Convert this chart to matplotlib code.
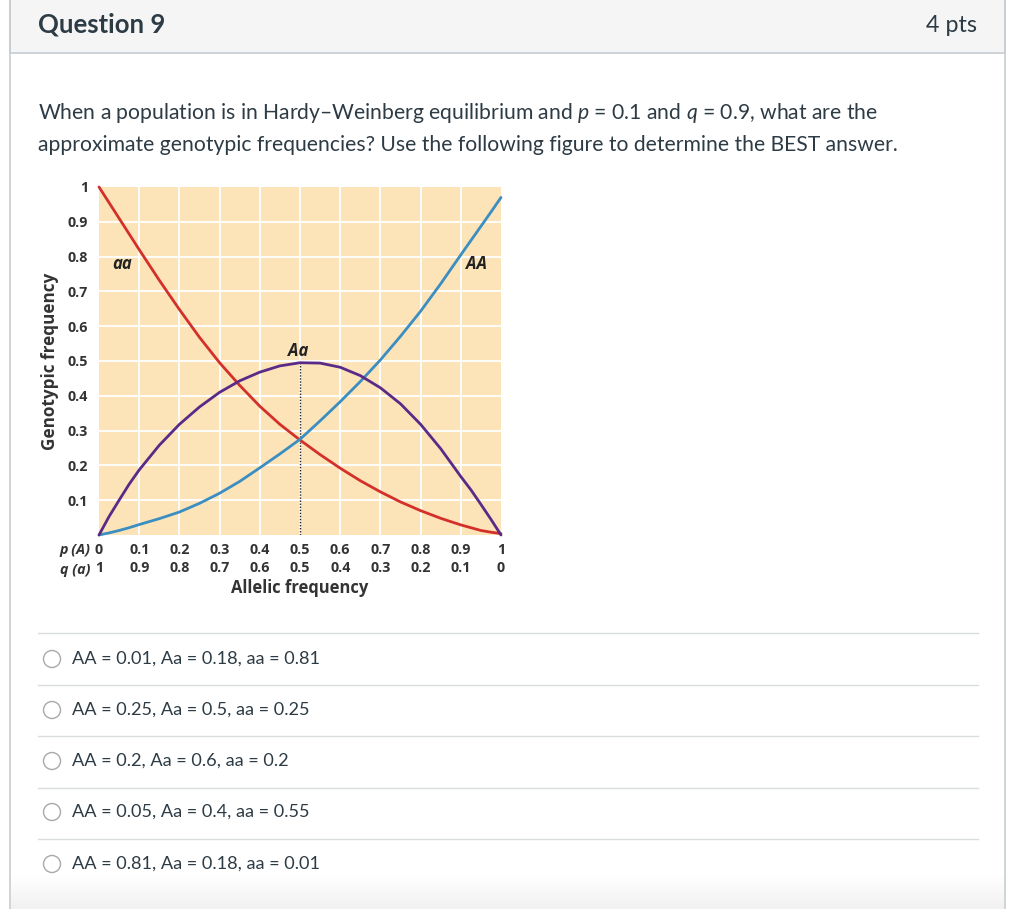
import numpy as np
import matplotlib
matplotlib.use("Agg")
import matplotlib.pyplot as plt
from matplotlib.patches import Rectangle, Circle

plt.rcParams['font.family'] = ['Lato', 'DejaVu Sans']
plt.rcParams['mathtext.fontset'] = 'custom'
plt.rcParams['mathtext.it'] = 'Lato:italic'
plt.rcParams['mathtext.rm'] = 'Lato'

# ---- data ----
p_values = [0.0, 0.025, 0.05, 0.075, 0.1, 0.15, 0.2, 0.25, 0.3, 0.35, 0.4, 0.45, 0.5,
            0.55, 0.6, 0.65, 0.7, 0.75, 0.8, 0.85, 0.9, 0.925, 0.95, 0.975, 1.0]
freq_AA = [0.0, 0.006, 0.013, 0.021, 0.03, 0.047, 0.066, 0.091, 0.12, 0.154, 0.193, 0.233, 0.275,
           0.328, 0.383, 0.441, 0.503, 0.571, 0.643, 0.722, 0.805, 0.846, 0.887, 0.928, 0.97]
freq_Aa = [0.0, 0.053, 0.10, 0.146, 0.187, 0.258, 0.318, 0.368, 0.41, 0.443, 0.468, 0.486, 0.495,
           0.494, 0.482, 0.458, 0.423, 0.377, 0.318, 0.248, 0.168, 0.13, 0.088, 0.045, 0.0]
freq_aa = [1.0, 0.955, 0.91, 0.865, 0.82, 0.732, 0.648, 0.568, 0.495, 0.43, 0.37, 0.318, 0.273,
           0.231, 0.192, 0.156, 0.124, 0.095, 0.07, 0.048, 0.029, 0.021, 0.013, 0.008, 0.004]

x_ticks = [0, 0.1, 0.2, 0.3, 0.4, 0.5, 0.6, 0.7, 0.8, 0.9, 1.0]
p_labels = ['0', '0.1', '0.2', '0.3', '0.4', '0.5', '0.6', '0.7', '0.8', '0.9', '1']
q_labels = ['1', '0.9', '0.8', '0.7', '0.6', '0.5', '0.4', '0.3', '0.2', '0.1', '0']
y_ticks = [0.1, 0.2, 0.3, 0.4, 0.5, 0.6, 0.7, 0.8, 0.9, 1.0]
y_labels = ['0.1', '0.2', '0.3', '0.4', '0.5', '0.6', '0.7', '0.8', '0.9', '1']

title = "Question 9"
points = "4 pts"
question_lines = [
    "When a population is in Hardy\u2013Weinberg equilibrium and $p$ = 0.1 and $q$ = 0.9, what are the",
    "approximate genotypic frequencies? Use the following figure to determine the BEST answer.",
]
answers = [
    "AA = 0.01, Aa = 0.18, aa = 0.81",
    "AA = 0.25, Aa = 0.5, aa = 0.25",
    "AA = 0.2, Aa = 0.6, aa = 0.2",
    "AA = 0.05, Aa = 0.4, aa = 0.55",
    "AA = 0.81, Aa = 0.18, aa = 0.01",
]

W, H = 1024, 909
fig = plt.figure(figsize=(W / 100, H / 100), dpi=100)
fig.patch.set_facecolor('white')

# ---- page background in pixel coordinates ----
bg = fig.add_axes([0, 0, 1, 1])
bg.axis('off')

border = '#c7cdd1'
bg.add_patch(Rectangle((10, -2), 995, 55, facecolor='#f5f5f5', edgecolor=border, lw=1.2))
grad = np.linspace(0, 1, 50).reshape(-1, 1)
bg.imshow(grad, extent=(11, 1004, 909, 875), cmap=matplotlib.colors.LinearSegmentedColormap.from_list(
    'g', ['#ffffff', '#f1f1f1']), aspect='auto', zorder=0)
bg.plot([10, 10], [0, H], color=border, lw=1.2)
bg.plot([1005, 1005], [0, H], color=border, lw=1.2)
bg.set_xlim(0, W)
bg.set_ylim(H, 0)

txt_col = '#2d3b45'
bg.text(38, 25, title, fontsize=18.5, fontweight='bold', color=txt_col, va='center', ha='left')
bg.text(977, 26, points, fontsize=16.8, color=txt_col, va='center', ha='right')

for i, line in enumerate(question_lines):
    bg.text(38, 113 + 32 * i, line, fontsize=15.2, color=txt_col, va='center', ha='left')

sep_y = [633, 685, 736, 788, 839]
ans_y = [659, 710, 761, 812, 864]
for sy in sep_y:
    bg.plot([38, 978], [sy, sy], color='#d9dde0', lw=1.0)
for ay, txt in zip(ans_y, answers):
    bg.add_patch(Circle((52, ay), 8.5, facecolor='white', edgecolor='#a9a9a9', lw=1.0))
    bg.text(72, ay, txt, fontsize=13.05, color=txt_col, va='center', ha='left')

# ---- chart ----
left, right, top, bottom = 99, 501, 187, 535
ax = fig.add_axes([left / W, 1 - bottom / H, (right - left) / W, (bottom - top) / H])
ax.set_facecolor('#fde3b8')
ax.set_xlim(0, 1)
ax.set_ylim(0, 1)
for s in ax.spines.values():
    s.set_visible(False)
for gx in x_ticks[1:-1]:
    ax.axvline(gx, color='white', lw=1.3, zorder=1)
for gy in y_ticks[:-1]:
    ax.axhline(gy, color='white', lw=1.3, zorder=1)

ax.plot([0.5, 0.5], [0, max(freq_Aa)], color='#222222', lw=1.0, ls=(0, (1, 1.2)), zorder=2)
line_kw = dict(lw=2.0, clip_on=False, solid_capstyle='round', solid_joinstyle='round')
ax.plot(p_values, freq_aa, color='#d3302a', zorder=3, **line_kw)
ax.plot(p_values, freq_AA, color='#3a8ec2', zorder=3, **line_kw)
ax.plot(p_values, freq_Aa, color='#5a2a88', zorder=4, **line_kw)

chart_fam = ['Open Sans', 'DejaVu Sans']
lab_kw = dict(fontsize=12, fontweight='bold', fontstyle='italic', color='#222222',
              ha='center', va='center', family=chart_fam)
ax.text(0.058, 0.78, 'aa', **lab_kw)
ax.text(0.94, 0.78, 'AA', **lab_kw)
ax.text(0.495, 0.53, 'Aa', **lab_kw)

tick_font = dict(fontsize=10.3, fontweight='bold', color='#333333', family=chart_fam)
ax.set_yticks(y_ticks)
ax.set_yticklabels(y_labels, **tick_font)
ax.set_xticks(x_ticks)
ax.set_xticklabels([f"{a}\n{b}" for a, b in zip(p_labels, q_labels)], **tick_font)
for lbl in ax.get_xticklabels():
    lbl.set_linespacing(1.35)
ax.tick_params(axis='both', length=0)
ax.tick_params(axis='y', pad=8)
ax.tick_params(axis='x', pad=6)

ax.text(-0.022, -0.043, 'p (A)', transform=ax.transAxes, ha='right', va='center',
        fontstyle='italic', **tick_font)
ax.text(-0.022, -0.101, 'q (a)', transform=ax.transAxes, ha='right', va='center',
        fontstyle='italic', **tick_font)
ax.set_xlabel('Allelic frequency', fontsize=11.9, fontweight='bold', color='#333333',
              family=chart_fam, labelpad=3)
ax.set_ylabel('Genotypic frequency', fontsize=12.3, fontweight='bold', color='#333333',
              family=chart_fam, labelpad=6)

fig.savefig('out.png', dpi=100)
